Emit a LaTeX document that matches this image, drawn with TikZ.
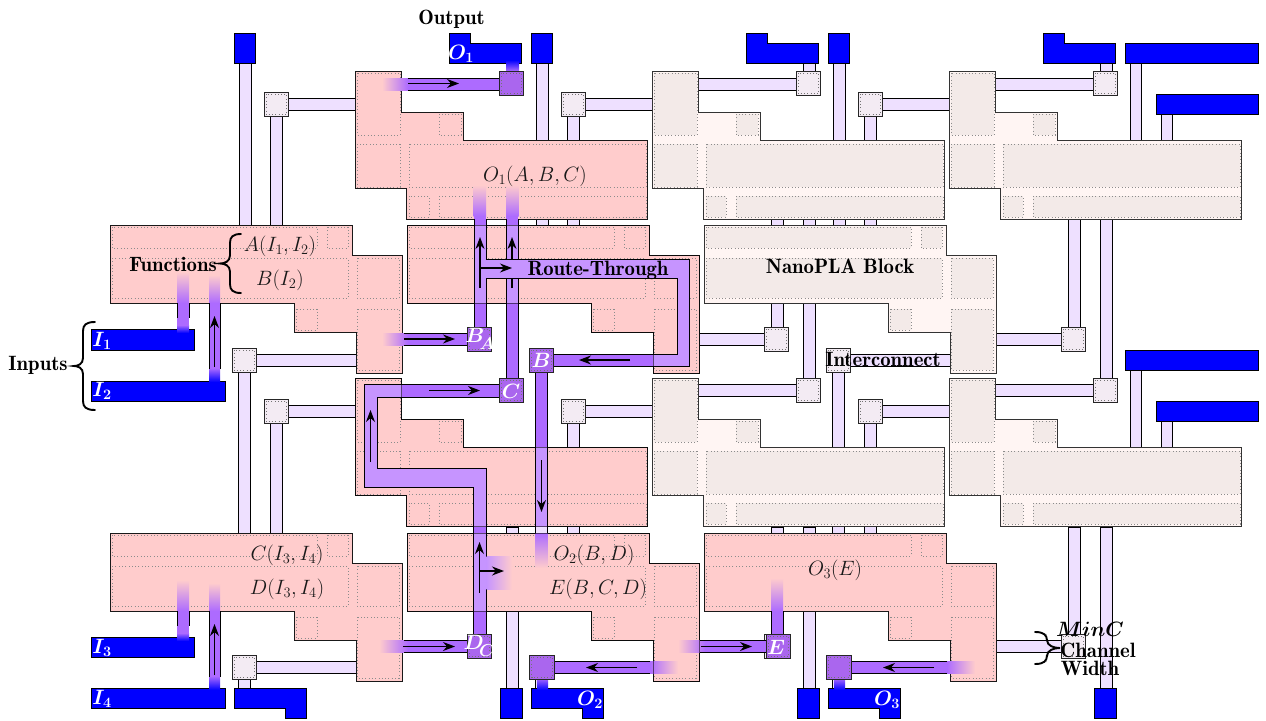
\documentclass[tikz,border=0pt]{standalone}
\usetikzlibrary{arrows.meta}
\definecolor{wirefill}{HTML}{EEE0FF}
\definecolor{swfill}{HTML}{F3EBF3}
\definecolor{pinkfill}{HTML}{FFCCCC}
\definecolor{fadefill}{HTML}{FFF5F3}
\definecolor{fadeinner}{HTML}{F3EAE8}
\definecolor{routefill}{HTML}{AD6BFF}
\definecolor{routelight}{HTML}{C694FF}
\definecolor{routesw}{HTML}{AA66EE}
\definecolor{padblue}{HTML}{0000FF}
\tikzset{
  edge/.style={draw=black,line width=0.9pt},
  wire/.style={edge,fill=wirefill},
  sw/.style={draw=black!85,line width=0.9pt,fill=swfill},
  swdot/.style={draw=black!55,line width=0.7pt,dash pattern=on 0.9pt off 2.4pt},
  padb/.style={edge,fill=padblue},
  pinkblock/.style={draw=black!90,line width=0.9pt,fill=pinkfill},
  pinkdot/.style={draw=black!45,line width=0.6pt,dash pattern=on 0.9pt off 2.4pt},
  fadeblock/.style={draw=black!80,line width=0.9pt,fill=fadefill},
  fadedot/.style={draw=black!45,line width=0.6pt,dash pattern=on 0.9pt off 2.4pt,fill=fadeinner},
  rt/.style={fill=routefill},
  rl/.style={fill=routelight},
  flow/.style={draw=black,line width=1.2pt,-{Stealth[length=12pt,width=9pt]}},
  lab/.style={inner sep=0pt,font=\fontsize{20.74}{22}\selectfont,text=black!90},
  blab/.style={inner sep=0pt,font=\fontsize{20.74}{22}\selectfont\fontseries{b}\selectfont,text=black},
  wlab/.style={inner sep=0pt,font=\fontsize{20.74}{22}\selectfont\boldmath,text=white},
  bracepen/.style={draw=black,line width=1.9pt,line cap=round},
}
\newcommand\outlineA{(0,0)--(46,0)--(46,41)--(108,41)--(108,69)--(292,69)--(292,148)--(51,148)--(51,117)--(0,117)--cycle}
\newcommand\outlineB{(0,0)--(242,0)--(242,30)--(292,30)--(292,148)--(246,148)--(246,107)--(184,107)--(184,78)--(0,78)--cycle}
\newcommand\blockA[4]{\begin{scope}[shift={(#1,#2)}]
  \path[#3] \outlineA;
  \foreach \a/\b/\c/\d in {2/2/45/64,84/43/106/64,2/73/45/116,54/73/291/116,54/125/74/146,84/125/291/146}
    {\path[#4] (\a,\b) rectangle (\c,\d);}
\end{scope}}
\newcommand\blockB[4]{\begin{scope}[shift={(#1,#2)}]
  \path[#3] \outlineB;
  \foreach \a/\b/\c/\d in {2/2/207/23,217/2/238/23,2/33/238/73,247/33/289/73,186/84/207/105,247/84/289/145}
    {\path[#4] (\a,\b) rectangle (\c,\d);}
\end{scope}}
\newcommand\switch[3]{\path[#3] (#1,#2) rectangle +(24.5,24.5);
  \path[swdot] (#1+2,#2+2) rectangle +(20.5,20.5);}
% brace: free ends at x=#1, stem at x=#2, tip at x=#3, from y=#4 to y=#5
\newcommand\bracecurve[5]{\pgfmathsetmacro\ymid{(#4+#5)/2}
  \draw[bracepen] (#1,#4) .. controls ({#2+0.25*(#1-#2)},#4) and (#2,#4+3) .. (#2,#4+9)
    -- (#2,\ymid-8) .. controls (#2,\ymid-2) and ({#3+0.45*(#2-#3)},\ymid) .. (#3,\ymid)
    .. controls ({#3+0.45*(#2-#3)},\ymid) and (#2,\ymid+2) .. (#2,\ymid+8)
    -- (#2,#5-9) .. controls (#2,#5-3) and ({#2+0.25*(#1-#2)},#5) .. (#1,#5);}
% two letters that overlap as in the reference: large letter, lower letter
\newcommand\stacked[2]{$#1$\kern-4.5pt\raisebox{-6.5pt}{\fontsize{17.28}{18}\selectfont\boldmath$#2$}}
\begin{document}
\begin{tikzpicture}[x=1pt,y=-1pt]
\useasboundingbox (0,0) rectangle (1266,720);
\fill[white] (0,0) rectangle (1266,720);

% ---- interconnect of the three tiled columns
\foreach \dx in {0,297,594}{
  \begin{scope}[shift={(\dx,0)}]
    % top row
    \path[wire] (239.5,60) rectangle (251,225);
    \path[wire] (270,110) rectangle (282,225);
    \path[wire] (285,98) rectangle (355,110);
    \path[padb] (234,33) rectangle (255,63);
    \switch{264}{92}{sw}
    % output switch at the top
    \path[wire] (506,60) rectangle (518,75);
    \path[wire] (401,78) rectangle (502,90);
    \path[padb] (449,33)--(470,33)--(470,43)--(521,43)--(521,63)--(449,63)--cycle;
    \switch{499}{71}{sw}
    % middle row
    \path[wire] (238,368) rectangle (250,533);
    \path[wire] (270,420) rectangle (282,533);
    \path[wire] (253,354) rectangle (356,366);
    \path[wire] (285,405) rectangle (355,417);
    \switch{232}{348}{sw}
    \switch{264}{399}{sw}
    \path[wire] (474,219) rectangle (486,330);
    \path[wire] (506,219) rectangle (518,381);
    \path[wire] (402,333) rectangle (470,345);
    \path[wire] (401,384) rectangle (502,396);
    \switch{467}{327}{sw}
    \switch{499}{378}{sw}
    % bottom row
    \path[wire] (474,527) rectangle (486,637);
    \path[wire] (506,527) rectangle (518,690);
    \path[wire] (402,640) rectangle (470,652);
    \path[wire] (238,676) rectangle (250,690);
    \path[wire] (253,661) rectangle (356,673);
    \path[padb] (500,688) rectangle (522,718);
    \path[padb] (234,688)--(306,688)--(306,718)--(285,718)--(285,708)--(234,708)--cycle;
    \switch{467}{634}{sw}
    \switch{232}{655}{sw}
  \end{scope}
}
% ---- far right channels and pads
\path[wire] (1130,60) rectangle (1141,140);
\path[wire] (1161,110) rectangle (1172,140);
\path[wire] (1130,367) rectangle (1141,447);
\path[wire] (1161,417) rectangle (1172,447);
\path[padb] (1125,43) rectangle (1258,63);
\path[padb] (1156,94) rectangle (1258,114);
\path[padb] (1125,350) rectangle (1258,370);
\path[padb] (1156,401) rectangle (1258,421);

% ---- blocks
\blockA{355}{71}{pinkblock}{pinkdot}
\blockA{652}{71}{fadeblock}{fadedot}
\blockA{949}{71}{fadeblock}{fadedot}
\blockA{355}{378}{pinkblock}{pinkdot}
\blockA{652}{378}{fadeblock}{fadedot}
\blockA{949}{378}{fadeblock}{fadedot}
\blockB{110}{225}{pinkblock}{pinkdot}
\blockB{407}{225}{pinkblock}{pinkdot}
\blockB{704}{225}{fadeblock}{fadedot}
\blockB{110}{533}{pinkblock}{pinkdot}
\blockB{407}{533}{pinkblock}{pinkdot}
\blockB{704}{533}{pinkblock}{pinkdot}

% ---- input pads
\path[padb] (91,329) rectangle (194,350);
\path[padb] (91,381) rectangle (225,401);
\path[padb] (91,637) rectangle (194,657);
\path[padb] (91,688) rectangle (225,708);

% ---- routed signals: inputs
\foreach \oy in {0,308}{
  \begin{scope}[shift={(0,\oy)}]
    \shade[top color=pinkfill,bottom color=routefill] (177,272) rectangle (189,303);
    \fill[rt] (177,303) rectangle (189,325);
    \shade[top color=routefill,bottom color=padblue] (177,325) rectangle (189,333);
    \draw[edge] (177,303)--(177,318) (189,303)--(189,318);
    \shade[top color=pinkfill,bottom color=routefill] (209,275) rectangle (220,303);
    \fill[rt] (209,303) rectangle (220,368);
    \shade[top color=routefill,bottom color=padblue] (209,368) rectangle (220,382);
    \draw[edge] (209,303)--(209,369) (220,303)--(220,369);
    \draw[flow] (214.5,367)--(214.5,316);
  \end{scope}
}

% ---- top output O1
\shade[left color=pinkfill,right color=routefill] (382,78) rectangle (408,90);
\fill[rt] (408,78) rectangle (499,90);
\draw[edge] (408,78)--(499,78) (408,90)--(499,90);
\draw[flow] (408,83.5)--(459,83.5);
\shade[top color=padblue,bottom color=routefill] (506,60) rectangle (519,71);
\switch{499}{71}{sw,fill=routesw}

% ---- B_A vertical and C vertical in the upper channel
\shade[top color=pinkfill,bottom color=routefill] (473.5,185) rectangle (486,216);
\shade[top color=pinkfill,bottom color=routefill] (506,185) rectangle (518.5,216);
\path[rl] (506,225) rectangle (518,303);
\draw[edge] (506,225)--(506,303) (518,225)--(518,303);
\fill[rt] (506,216) rectangle (518,225);
\fill[rt] (506,303) rectangle (518,378);
\draw[edge] (506,219)--(506,225) (518,219)--(518,225) (506,303)--(506,378) (518,303)--(518,378);
\draw[flow] (512,288)--(512,237);
\path[rl] (474,225) rectangle (486,303);
\draw[edge] (474,225)--(474,303) (486,225)--(486,303);
\fill[rt] (474,216) rectangle (486,225);
\fill[rt] (474,303) rectangle (486,327);
\draw[edge] (474,219)--(474,225) (486,219)--(486,225) (474,303)--(474,327) (486,303)--(486,327);

% ---- route-through band
\fill[rl] (485.5,259.5)--(689,259.5)--(689,366)--(553,366)--(553,354)--(677,354)--(677,278)--(485.5,278)--cycle;
\draw[edge] (486,225)--(486,259)--(689,259)--(689,366)--(553,366) (553,354)--(677,354)--(677,278)--(486,278)--(486,303);
\fill[rt] (553,354.5) rectangle (652.5,365.5);
\draw[flow] (630,360)--(579,360);
\draw[flow] (480,288)--(480,237);
\draw[flow] (480.5,268)--(512,268);

% ---- B_A input wire, switch
\shade[left color=pinkfill,right color=routefill] (382,333) rectangle (408,345);
\fill[rt] (408,333) rectangle (467,345);
\draw[edge] (404,333)--(467,333) (404,345)--(467,345);
\draw[flow] (404,339)--(455,339);
\switch{467}{327}{sw,fill=routesw}

% ---- B switch and its way down
\fill[rt] (535.5,372) rectangle (547.5,447);
\draw[edge] (535.5,372)--(535.5,447) (547.5,372)--(547.5,447);
\path[rl] (535.5,447) rectangle (547.5,527);
\draw[edge] (535.5,447)--(535.5,527) (547.5,447)--(547.5,527);
\shade[top color=routefill,bottom color=pinkfill] (535.5,533) rectangle (547.5,568);
\draw[flow] (541.5,460)--(541.5,512);
\switch{529}{348}{sw,fill=routesw}

% ---- route from C around to D_C
\path[rl] (499,384)--(364,384)--(364,487)--(473,487)--(473,634)--(486,634)--(486,468)--(377,468)--(377,397)--(499,397)--cycle;
\draw[edge] (499,384)--(364,384)--(364,487)--(473,487)--(473,634) (486,634)--(486,468)--(377,468)--(377,397)--(499,397);
\fill[rt] (401.5,384.5) rectangle (499,396.5);
\fill[rt] (473.5,527) rectangle (485.5,533);
\fill[rt] (473.5,611) rectangle (485.5,634);
\draw[flow] (429,390.5)--(480,390.5);
\draw[flow] (370.5,462)--(370.5,410);
\shade[left color=routelight,right color=pinkfill] (486.5,556) rectangle (512,589);
\draw[flow] (479.5,593)--(479.5,542);
\draw[flow] (479.5,571)--(504,571);
\switch{499}{378}{sw,fill=routesw}
\switch{467}{634}{sw,fill=routesw}

% ---- D_C input
\shade[left color=pinkfill,right color=routefill] (379,640) rectangle (408,652);
\fill[rt] (408,640) rectangle (467,652);
\draw[edge] (404,640)--(467,640) (404,652)--(467,652);
\draw[flow] (403,646.5)--(455,646.5);

% ---- E
\shade[left color=pinkfill,right color=routefill] (678,640) rectangle (705,652);
\fill[rt] (705,640) rectangle (766,652);
\draw[edge] (700,640)--(766,640) (700,652)--(766,652);
\draw[flow] (701,646.5)--(752,646.5);
\shade[top color=pinkfill,bottom color=routefill] (771,578) rectangle (783,611);
\fill[rt] (771,611) rectangle (783,634);
\draw[edge] (771,611)--(771,634) (783,611)--(783,634);
\switch{766}{634}{sw,fill=routesw}

% ---- O2 and O3 outputs
\foreach \dx in {0,297}{
  \begin{scope}[shift={(\dx,0)}]
    \shade[left color=routefill,right color=pinkfill] (650,661.5) rectangle (678,673.5);
    \fill[rt] (553,661.5) rectangle (650,673.5);
    \draw[edge] (553,661.5)--(650,661.5) (553,673.5)--(650,673.5);
    \draw[flow] (637,667.5)--(586,667.5);
    \path[padb] (531,688)--(603,688)--(603,718)--(582,718)--(582,708)--(531,708)--cycle;
    \shade[top color=routefill,bottom color=padblue] (537,678) rectangle (548,690);
    \switch{529.5}{655}{sw,fill=routesw}
  \end{scope}
}

% ---- block edges showing through the routes
\begin{scope}[shift={(355,378)}]\draw[black,opacity=.55,line width=.8pt] \outlineA;\end{scope}
\begin{scope}[shift={(407,225)}]\draw[black,opacity=.55,line width=.8pt] \outlineB;\end{scope}
\begin{scope}[shift={(407,533)}]\draw[black,opacity=.55,line width=.8pt] \outlineB;\end{scope}

% ---- texts
\node[blab] (toutput) at (451.5,19) {Output};
\node[blab] (tinputs) at (38,365) {Inputs};
\node[blab] (tfunc) at (173,264) {Functions};
\node[blab] (troute) at (598,270) {Route-Through};
\node[blab] (tnano) at (840,266) {NanoPLA Block};
\node[blab] (tinter) at (883,359) {Interconnect};
\node[blab] (tchan) at (1098,650) {Channel};
\node[blab] (twidth) at (1090,668) {Width};
\node[blab,font=\fontsize{20.74}{22}\selectfont\boldmath] (tminc) at (1090,629) {$MinC$};

\node[lab] (tA) at (280,246) {$A(I_1,I_2)$};
\node[lab] (tB) at (280,280) {$B(I_2)$};
\node[lab] (tO1f) at (535,176) {$O_1(A,B,C)$};
\node[lab] (tC) at (287,555) {$C(I_3,I_4)$};
\node[lab] (tD) at (287,589) {$D(I_3,I_4)$};
\node[lab] (tO2f) at (594,555) {$O_2(B,D)$};
\node[lab] (tEf) at (598,589) {$E(B,C,D)$};
\node[lab] (tO3f) at (835,570) {$O_3(E)$};

\node[wlab] (lI1) at (102,341) {$I_1$};
\node[wlab] (lI2) at (102,391) {$I_2$};
\node[wlab] (lI3) at (102,648) {$I_3$};
\node[wlab] (lI4) at (102,699) {$I_4$};
\node[wlab] (lO1) at (461,54) {$O_1$};
\node[wlab] (lO2) at (590,700) {$O_2$};
\node[wlab] (lO3) at (887,700) {$O_3$};
\node[wlab] (lBA) at (480,339) {\stacked{B}{A}};
\node[wlab] (lCs) at (511,391) {$C$};
\node[wlab] (lBs) at (541,360) {$B$};
\node[wlab] (lDC) at (479,646) {\stacked{D}{C}};
\node[wlab] (lEs) at (776,647) {$E$};

% ---- braces
\bracecurve{241}{230}{220}{234}{293}
\bracecurve{95}{83}{74}{322}{410}
\bracecurve{1035}{1047}{1060}{632}{664}
\end{tikzpicture}
\end{document}
